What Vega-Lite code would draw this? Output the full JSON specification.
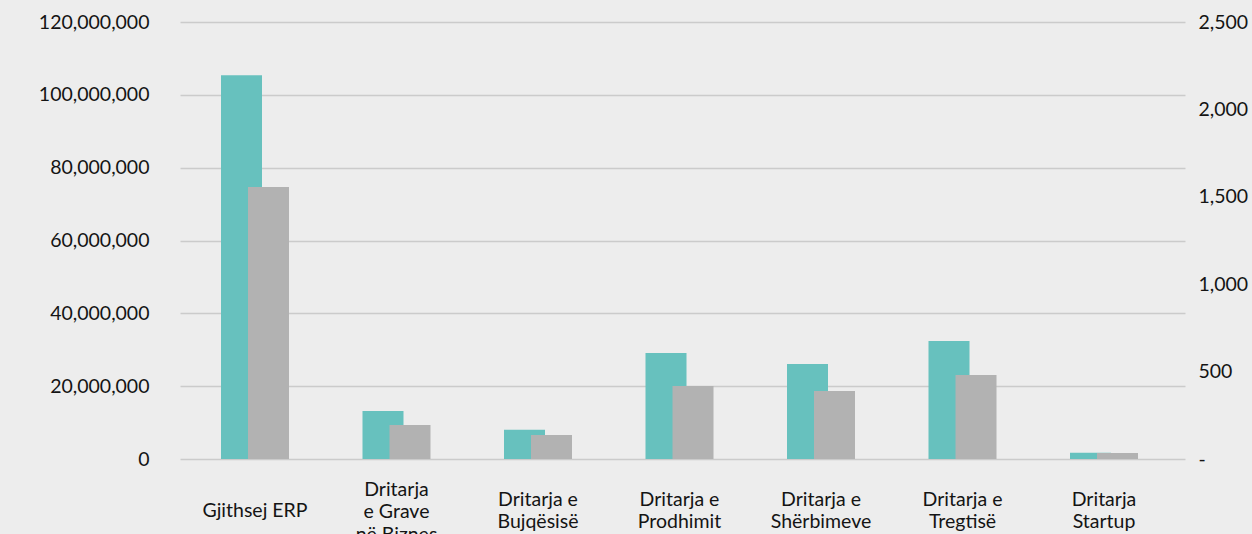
{
  "$schema": "https://vega.github.io/schema/vega-lite/v6.json",
  "width": 1005,
  "height": 437,
  "autosize": {"type": "none"},
  "padding": {"left": 180, "top": 22, "right": 67, "bottom": 75},
  "background": "#ededed",
  "config": {
    "view": {"stroke": null},
    "font": "Lato",
    "axis": {"labelFont": "Lato", "labelFontSize": 19.5, "labelColor": "#141414", "domain": false, "ticks": false, "title": null}
  },
  "data": {
    "values": [
      {"category": "Gjithsej ERP", "amount": 105400000, "count": 1556},
      {"category": "Dritarja|e Grave|në Biznes", "amount": 13200000, "count": 195},
      {"category": "Dritarja e|Bujqësisë", "amount": 8000000, "count": 137},
      {"category": "Dritarja e|Prodhimit", "amount": 29100000, "count": 418},
      {"category": "Dritarja e|Shërbimeve", "amount": 26100000, "count": 389},
      {"category": "Dritarja e|Tregtisë", "amount": 32400000, "count": 481},
      {"category": "Dritarja|Startup", "amount": 1700000, "count": 34}
    ]
  },
  "encoding": {
    "x": {
      "field": "category",
      "type": "nominal",
      "sort": null,
      "scale": {"paddingInner": 0, "paddingOuter": 0.0512, "align": 0.293},
      "axis": {
        "labelAngle": 0,
        "labelExpr": "split(datum.label, '|')",
        "labelBaseline": "middle",
        "labelLineHeight": 22.5,
        "labelPadding": {
          "condition": [
            {"test": "length(split(datum.value, '|')) == 3", "value": 30},
            {"test": "length(split(datum.value, '|')) == 2", "value": 40}
          ],
          "value": 51
        },
        "grid": false
      }
    }
  },
  "layer": [
    {
      "mark": {"type": "bar", "color": "#67c1be", "width": 41, "xOffset": -13.5},
      "encoding": {
        "y": {
          "field": "amount",
          "type": "quantitative",
          "scale": {"domain": [0, 120000000], "nice": false},
          "axis": {
            "values": [0, 20000000, 40000000, 60000000, 80000000, 100000000, 120000000],
            "labelExpr": "format(datum.value, ',')",
            "labelPadding": 31,
            "grid": true,
            "gridColor": "#cbcbcb",
            "gridWidth": 1.5
          }
        }
      }
    },
    {
      "mark": {"type": "bar", "color": "#b2b2b2", "width": 41, "xOffset": 13.5},
      "encoding": {
        "y": {
          "field": "count",
          "type": "quantitative",
          "scale": {"domain": [0, 2500], "nice": false},
          "axis": {
            "orient": "right",
            "values": [0, 500, 1000, 1500, 2000, 2500],
            "labelExpr": "datum.value == 0 ? '-' : format(datum.value, ',')",
            "labelPadding": 13,
            "grid": false
          }
        }
      }
    }
  ],
  "resolve": {"scale": {"y": "independent"}}
}
